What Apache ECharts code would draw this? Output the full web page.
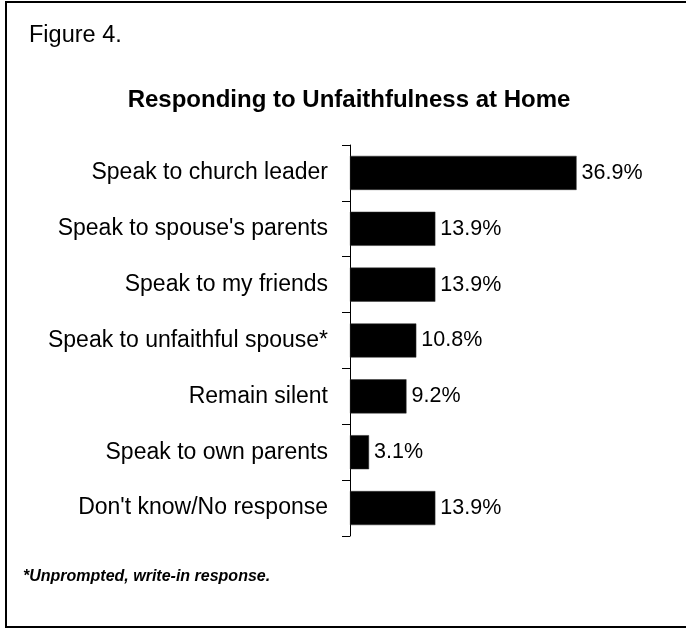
<!DOCTYPE html>
<html>
<head>
<meta charset="utf-8">
<title>Responding to Unfaithfulness at Home</title>
<script src="https://cdn.jsdelivr.net/npm/echarts@6/dist/echarts.min.js"></script>
<style>
  html, body { margin: 0; padding: 0; background: #fff; }
  #chart { width: 686px; height: 629px; }
</style>
</head>
<body>
<div id="chart"></div>
<script>
// Survey responses, top to bottom
const categories = [
  'Speak to church leader',
  "Speak to spouse's parents",
  'Speak to my friends',
  'Speak to unfaithful spouse*',
  'Remain silent',
  'Speak to own parents',
  "Don't know/No response"
];
const percents = [36.9, 13.9, 13.9, 10.8, 9.2, 3.1, 13.9];

const figureLabel = 'Figure 4.';
const chartTitle = 'Responding to Unfaithfulness at Home';
const footnote = '*Unprompted, write-in response.';

const FONT = '"Liberation Sans", Arial, Helvetica, sans-serif';

const chart = echarts.init(document.getElementById('chart'), null, { renderer: 'canvas' });

chart.setOption({
  backgroundColor: '#ffffff',
  animation: false,
  graphic: [
    {
      type: 'rect',
      shape: { x: 6, y: 2, width: 700, height: 625 },
      style: { fill: 'none', stroke: '#000', lineWidth: 2 },
      silent: true
    },
    {
      type: 'text',
      x: 29, y: 36,
      style: {
        text: figureLabel, font: '23.5px ' + FONT, fill: '#000',
        align: 'left', verticalAlign: 'middle'
      }
    },
    {
      type: 'text',
      x: 349, y: 100,
      style: {
        text: chartTitle, font: 'bold 24px ' + FONT, fill: '#000',
        align: 'center', verticalAlign: 'middle'
      }
    },
    {
      type: 'text',
      x: 23, y: 577,
      style: {
        text: footnote, font: 'italic bold 16px ' + FONT, fill: '#000',
        align: 'left', verticalAlign: 'middle'
      }
    }
  ],
  grid: { left: 350, top: 145, width: 307, height: 391 },
  xAxis: {
    type: 'value',
    min: 0,
    max: 50,
    show: false
  },
  yAxis: {
    type: 'category',
    data: categories,
    inverse: true,
    axisLine: { show: true, lineStyle: { color: '#000', width: 1 } },
    axisTick: { show: true, length: 8, lineStyle: { color: '#000', width: 1 } },
    axisLabel: { color: '#000', fontSize: 23, fontFamily: FONT, margin: 22 },
    splitLine: { show: false }
  },
  series: [
    {
      type: 'bar',
      data: percents,
      barCategoryGap: '39%',
      itemStyle: { color: '#000', borderColor: '#333', borderWidth: 0.5 },
      label: {
        show: true,
        position: 'right',
        distance: 5,
        color: '#000',
        fontSize: 21.5,
        fontFamily: FONT,
        formatter: p => p.value.toFixed(1) + '%'
      }
    }
  ]
});
</script>
</body>
</html>
